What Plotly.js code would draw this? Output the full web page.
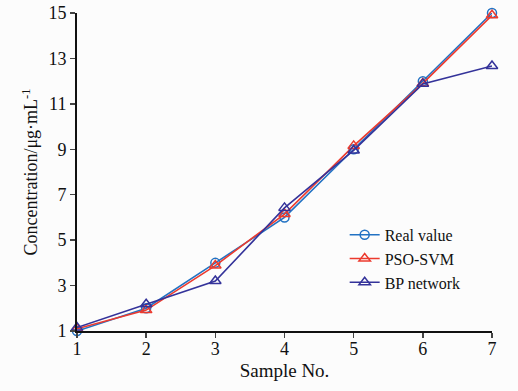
<!DOCTYPE html>
<html><head><meta charset="utf-8">
<script src="https://cdn.plot.ly/plotly-3.0.1.min.js"></script>
<style>html,body{margin:0;padding:0;background:#fcfcfc;}</style>
</head><body>
<div id="chart" style="width:518px;height:391px;"></div>
<script>
const samples = [1, 2, 3, 4, 5, 6, 7];
const realValue = [1.0, 2.0, 4.0, 6.0, 9.0, 12.0, 15.0];
const psoSvm = [1.1, 1.92, 3.88, 6.15, 9.15, 11.9, 14.9];
const bpNetwork = [1.15, 2.18, 3.2, 6.42, 8.95, 11.88, 12.67];
const xTicks = [1, 2, 3, 4, 5, 6, 7];
const yTicks = [1, 3, 5, 7, 9, 11, 13, 15];

const traces = [
  {x: samples, y: realValue, name: 'Real value', mode: 'lines+markers',
   line: {color: '#2272c3', width: 1.6},
   marker: {symbol: 'circle-open', size: 9, color: '#2272c3', line: {width: 1.5}}, cliponaxis: false},
  {x: samples, y: psoSvm, name: 'PSO-SVM', mode: 'lines+markers',
   line: {color: '#ec3a2e', width: 1.6},
   marker: {symbol: 'triangle-up-open', size: 10, color: '#ec3a2e', line: {width: 1.5}}, cliponaxis: false},
  {x: samples, y: bpNetwork, name: 'BP network', mode: 'lines+markers',
   line: {color: '#34339a', width: 1.6},
   marker: {symbol: 'triangle-up-open', size: 10, color: '#34339a', line: {width: 1.5}}, cliponaxis: false}
];

const font = {family: '"Liberation Serif", "Times New Roman", serif', color: '#111'};
const layout = {
  width: 518, height: 391,
  margin: {l: 77, r: 26, t: 13, b: 60},
  paper_bgcolor: '#fcfcfc', plot_bgcolor: '#fcfcfc',
  font: font,
  showlegend: true,
  legend: {x: 0.645, y: 0.356, xanchor: 'left', yanchor: 'top', bgcolor: 'rgba(0,0,0,0)',
           font: {family: font.family, size: 16, color: '#111'}, tracegroupgap: 0, itemwidth: 30},
  xaxis: {range: [1, 7], tickvals: xTicks, ticks: 'outside', ticklen: 5, tickwidth: 1.5,
          ticklabelstandoff: -5,
          showline: true, linewidth: 2, linecolor: '#111', showgrid: false, zeroline: false,
          tickfont: {size: 18, family: font.family, color: '#111'},
          title: {text: 'Sample No.', font: {size: 19, family: font.family, color: '#111'}, standoff: 6}},
  yaxis: {range: [1, 15], tickvals: yTicks, ticks: 'outside', ticklen: 5, tickwidth: 1.5,
          showline: true, linewidth: 2, linecolor: '#111', showgrid: false, zeroline: false,
          tickfont: {size: 18, family: font.family, color: '#111'},
          title: {text: 'Concentration/μg·mL<sup>-1</sup>', font: {size: 18, family: font.family, color: '#111'}, standoff: 6}}
};
Plotly.newPlot('chart', traces, layout, {displayModeBar: false, staticPlot: true});
</script>
</body></html>
